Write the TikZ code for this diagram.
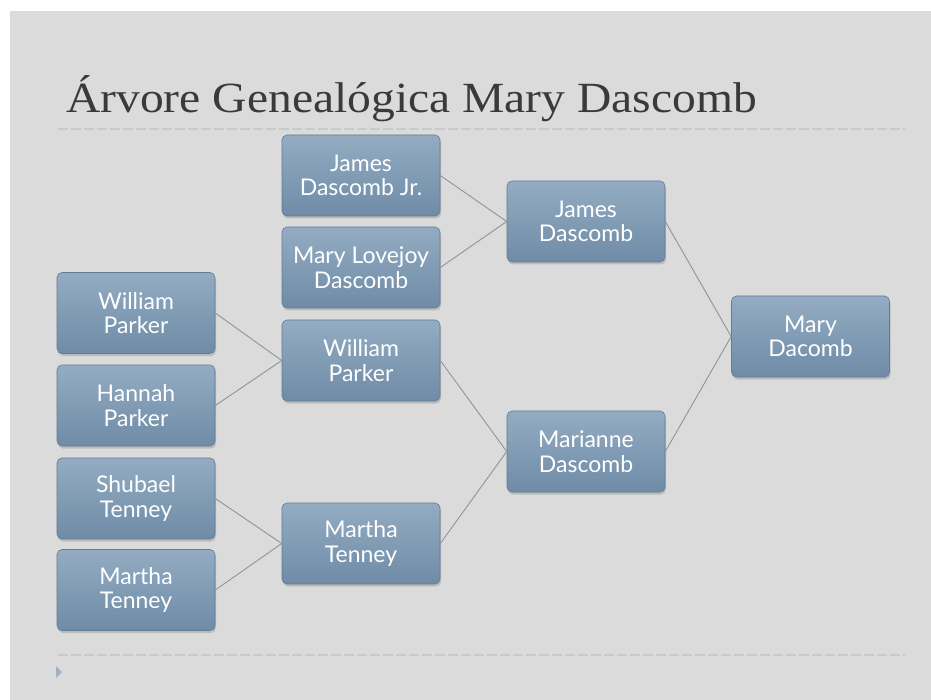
\documentclass[tikz,border=0pt]{standalone}
\usepackage{fontspec}
\setmainfont{Liberation Serif}
\newfontfamily\boxfont{Lato}
\usetikzlibrary{shadows}
\definecolor{bggray}{HTML}{DBDBDB}
\definecolor{boxtop}{HTML}{93ACC3}
\definecolor{boxbot}{HTML}{6F8BA6}
\definecolor{boxline}{HTML}{627C95}
\definecolor{conn}{HTML}{8C959D}
\definecolor{titlecol}{HTML}{3A3A3A}
\definecolor{dotcol}{HTML}{CACACA}
\definecolor{tri}{HTML}{9FB2C8}
\tikzset{
  person/.style={rectangle, rounded corners=5pt, minimum width=158pt, minimum height=81pt,
    top color=boxtop, bottom color=boxbot, draw=boxline, line width=0.6pt,
    drop shadow={shadow xshift=1pt, shadow yshift=-2.5pt, opacity=0.35},
    text=white, align=center, font=\boxfont\fontsize{23}{24.5}\selectfont, inner sep=2pt},
  link/.style={draw=conn, line width=0.9pt},
  rule/.style={draw=dotcol, line width=1.2pt, dash pattern=on 10pt off 3pt}
}
\begin{document}
\begin{tikzpicture}[x=1pt,y=-1pt]
\useasboundingbox (0,0) rectangle (931,700);
\fill[white] (0,0) rectangle (931,700);
\fill[bggray] (10,11) rectangle (931,700);
% title
\node[anchor=base west, inner sep=0pt, text=titlecol] (title) at (66,113)
  {\scalebox{1.16}[1.05]{\fontsize{41}{48}\selectfont Árvore Genealógica Mary Dascomb}};
\coordinate (r1a) at (58,129); \coordinate (r1b) at (905,129);
\draw[rule] (r1a) -- (r1b);
\coordinate (r2a) at (58,655); \coordinate (r2b) at (905,655);
\draw[rule] (r2a) -- (r2b);
\fill[tri] (56,666) -- (62,672) -- (56,678) -- cycle;
% column 1
\node[person] (wp1) at (136,313) {William\\Parker};
\node[person] (hp) at (136,405.5) {Hannah\\Parker};
\node[person] (st) at (136,498.5) {Shubael\\Tenney};
\node[person] (mt1) at (136,590) {Martha\\Tenney};
% column 2
\node[person] (jdjr) at (361,175.5) {James\\Dascomb Jr.};
\node[person] (mld) at (361,267.5) {Mary Lovejoy\\Dascomb};
\node[person] (wp2) at (361,360.5) {William\\Parker};
\node[person] (mt2) at (361,543.5) {Martha\\Tenney};
% column 3
\node[person] (jd) at (586,221.5) {James\\Dascomb};
\node[person] (md) at (586,451.5) {Marianne\\Dascomb};
% column 4
\node[person] (mary) at (810.5,336.5) {Mary\\Dacomb};
% connectors
\draw[link] (wp1.east) -- (wp2.west);
\draw[link] (hp.east) -- (wp2.west);
\draw[link] (st.east) -- (mt2.west);
\draw[link] (mt1.east) -- (mt2.west);
\draw[link] (jdjr.east) -- (jd.west);
\draw[link] (mld.east) -- (jd.west);
\draw[link] (wp2.east) -- (md.west);
\draw[link] (mt2.east) -- (md.west);
\draw[link] (jd.east) -- (mary.west);
\draw[link] (md.east) -- (mary.west);
\end{tikzpicture}
\end{document}
